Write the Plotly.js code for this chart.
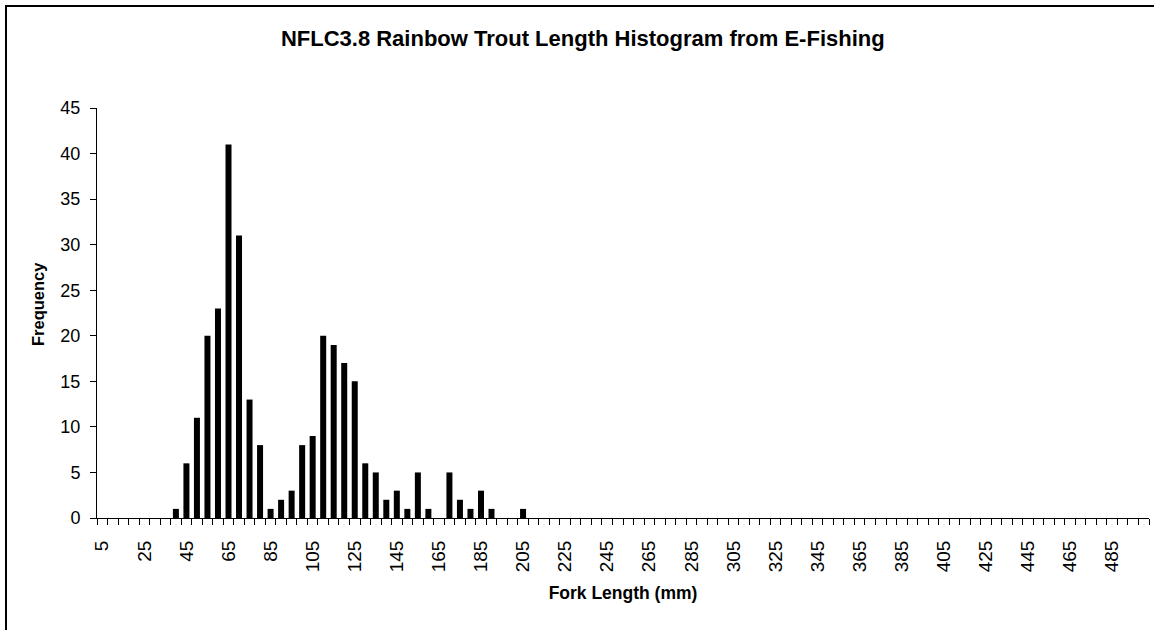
<!DOCTYPE html>
<html>
<head>
<meta charset="utf-8">
<script src="https://cdn.plot.ly/plotly-3.0.1.min.js"></script>
<style>
html,body{margin:0;padding:0;background:#fff;}
#wrap{position:relative;width:1154px;height:630px;overflow:hidden;}
#chart{width:1154px;height:630px;}
#frame{position:absolute;left:5px;top:5px;width:1200px;height:700px;border-left:2px solid #000;border-top:2px solid #000;pointer-events:none;}
</style>
</head>
<body>
<div id="wrap"><div id="chart"></div><div id="frame"></div></div>
<script>
// Fork length bins (mm)
var forkLength = [5,10,15,20,25,30,35,40,45,50,55,60,65,70,75,80,85,90,95,100,
  105,110,115,120,125,130,135,140,145,150,155,160,165,170,175,180,185,190,195,200,
  205,210,215,220,225,230,235,240,245,250,255,260,265,270,275,280,285,290,295,300,
  305,310,315,320,325,330,335,340,345,350,355,360,365,370,375,380,385,390,395,400,
  405,410,415,420,425,430,435,440,445,450,455,460,465,470,475,480,485,490,495,500];
// Frequency per bin
var frequency = [0,0,0,0,0,0,0,1,6,11,20,23,41,31,13,8,1,2,3,8,
  9,20,19,17,15,6,5,2,3,1,5,1,0,5,2,1,3,1,0,0,
  1,0,0,0,0,0,0,0,0,0,0,0,0,0,0,0,0,0,0,0,
  0,0,0,0,0,0,0,0,0,0,0,0,0,0,0,0,0,0,0,0,
  0,0,0,0,0,0,0,0,0,0,0,0,0,0,0,0,0,0,0,0];
// Labelled ticks
var tickLabels = [5,25,45,65,85,105,125,145,165,185,205,225,245,265,285,305,325,345,365,385,405,425,445,465,485];
var yTicks = [0,5,10,15,20,25,30,35,40,45];

var trace = {
  type: 'bar',
  x: forkLength,
  y: frequency,
  marker: {color: '#000000', line: {width: 0}},
  hoverinfo: 'x+y'
};

var layout = {
  width: 1154, height: 630,
  margin: {l: 97, r: 5, t: 108, b: 112},
  paper_bgcolor: '#ffffff',
  plot_bgcolor: '#ffffff',
  showlegend: false,
  bargap: 0.43,
  font: {family: 'Liberation Sans, Arial, sans-serif', color: '#000000'},
  title: {
    text: '<b>NFLC3.8 Rainbow Trout Length Histogram from E-Fishing</b>',
    font: {size: 22, family: 'Liberation Sans, Arial, sans-serif', color: '#000'},
    x: 0.505, xanchor: 'center', y: 0.94, yanchor: 'middle'
  },
  xaxis: {
    range: [2.5, 502.5],
    tickmode: 'array',
    tickvals: tickLabels,
    ticktext: tickLabels.map(String),
    tickangle: -90,
    ticks: 'outside',
    ticklen: 14,
    tickcolor: 'rgba(0,0,0,0)',
    tickfont: {size: 19},
    showgrid: false,
    zeroline: false,
    showline: true,
    linecolor: '#000',
    linewidth: 1,
    minor: {tick0: 2.5, dtick: 5, ticks: 'outside', ticklen: 6, tickcolor: '#000', tickwidth: 1, showgrid: false},
    title: {text: '<b>Fork Length (mm)</b>', font: {size: 17.5}, standoff: 15},
    fixedrange: true
  },
  yaxis: {
    range: [0, 45],
    tickmode: 'array',
    tickvals: yTicks,
    ticks: 'outside',
    ticklen: 6,
    tickcolor: '#000',
    tickfont: {size: 18},
    ticklabelstandoff: 6,
    showgrid: false,
    zeroline: false,
    showline: true,
    linecolor: '#000',
    linewidth: 1,
    fixedrange: true
  },
  annotations: [{
    text: '<b>Frequency</b>',
    xref: 'paper', yref: 'paper',
    x: -0.0566, y: 0.523,
    xanchor: 'center', yanchor: 'middle',
    textangle: -90,
    showarrow: false,
    font: {size: 16.5, family: 'Liberation Sans, Arial, sans-serif', color: '#000'}
  }]
};

Plotly.newPlot('chart', [trace], layout, {displayModeBar: false, staticPlot: true});
</script>
</body>
</html>
